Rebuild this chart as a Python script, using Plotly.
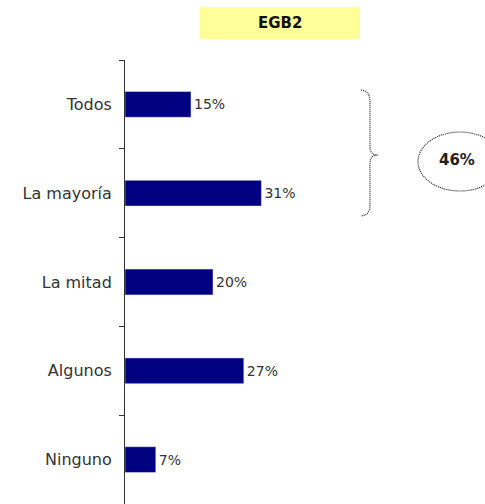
import plotly.graph_objects as go

# Data
categories = ['Todos', 'La mayoría', 'La mitad', 'Algunos', 'Ninguno']
values = [15, 31, 20, 27, 7]
value_labels = ['15%', '31%', '20%', '27%', '7%']
group_title = 'EGB2'
group_total = '46%'

W, H = 485, 504
ML, MR, MT, MB = 125, 0, 60, 0


# Helpers: pixel -> paper coordinates
def px(x):
    return (x - ML) / (W - ML - MR)


def py(y):
    return (H - MB - y) / (H - MT - MB)


fig = go.Figure()

fig.add_trace(
    go.Bar(
        y=categories,
        x=values,
        orientation='h',
        marker_color='#000080',
        text=value_labels,
        textposition='outside',
        textfont=dict(size=14, color='#333333'),
        cliponaxis=False,
        width=0.29,
    )
)

# Curly brace (dotted) around first two bars
path = "M {} {} C {} {}, {} {}, {} {} L {} {} C {} {}, {} {}, {} {} C {} {}, {} {}, {} {} L {} {} C {} {}, {} {}, {} {}".format(
    px(361), py(90),
    px(368), py(91), px(370), py(95), px(370), py(103),
    px(370), py(147),
    px(370), py(152), px(372), py(155), px(378), py(155),
    px(372), py(155), px(370), py(158), px(370), py(163),
    px(370), py(205),
    px(370), py(211), px(368), py(215), px(361), py(216),
)

fig.update_layout(
    width=W,
    height=H,
    margin=dict(l=ML, r=MR, t=MT, b=MB),
    plot_bgcolor='white',
    paper_bgcolor='white',
    showlegend=False,
    font=dict(family='DejaVu Sans, Arial, sans-serif', color='#333333'),
    xaxis=dict(
        range=[0, 81.8],
        visible=False,
        fixedrange=True,
    ),
    yaxis=dict(
        autorange='reversed',
        showline=True,
        linecolor='#333333',
        linewidth=1,
        ticks='outside',
        tickson='boundaries',
        ticklen=5,
        tickcolor='#333333',
        tickfont=dict(size=16, color='#333333'),
        ticklabelstandoff=9,
        showgrid=False,
        fixedrange=True,
    ),
    shapes=[
        dict(type='rect', xref='paper', yref='paper',
             x0=px(200), x1=px(360), y0=py(39), y1=py(7),
             fillcolor='#FFFF99', line=dict(width=0), layer='below'),
        dict(type='path', xref='paper', yref='paper', path=path,
             line=dict(color='#222222', width=1.2, dash='1px,1px')),
        dict(type='circle', xref='paper', yref='paper',
             x0=px(418), x1=px(502), y0=py(191), y1=py(132),
             line=dict(color='#222222', width=1.2, dash='1px,1px')),
    ],
    annotations=[
        dict(x=px(280), y=py(23), xref='paper', yref='paper',
             xanchor='center', yanchor='middle',
             text='<b>' + group_title + '</b>', showarrow=False,
             font=dict(size=15, color='#111111')),
        dict(x=px(457), y=py(160), xref='paper', yref='paper',
             xanchor='center', yanchor='middle',
             text='<b>' + group_total + '</b>', showarrow=False,
             font=dict(size=15, color='#222222')),
    ],
)

# remove the default page margin so the figure sits at the window origin
fig.write_html("out.html", config={'displayModeBar': False},
               post_script="document.body.style.margin='0';")
